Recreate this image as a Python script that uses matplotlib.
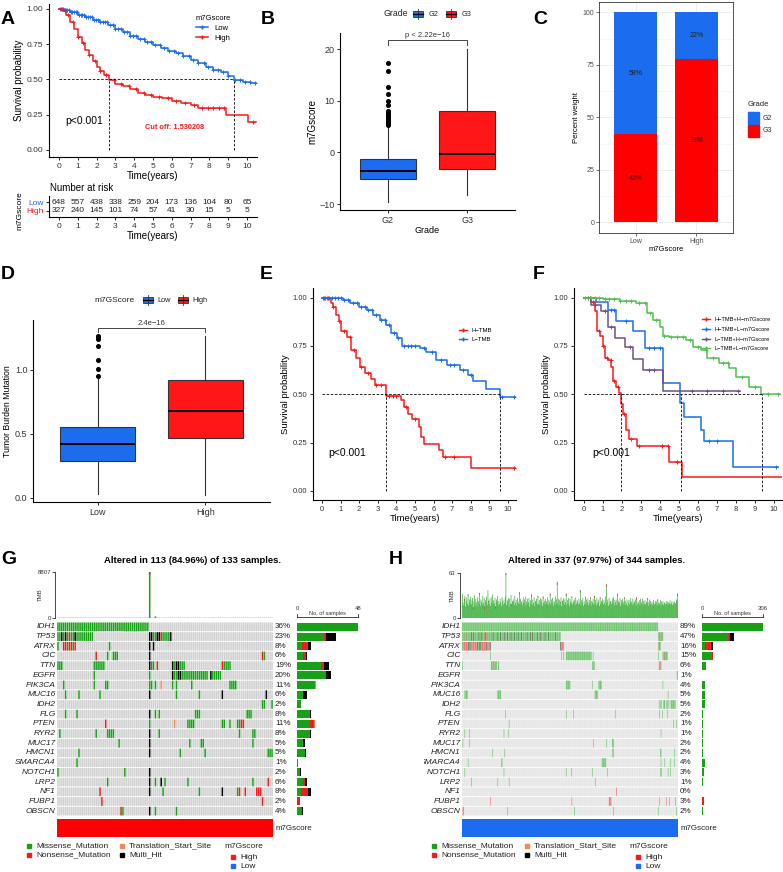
import numpy as np
import matplotlib
matplotlib.use("Agg")
import matplotlib.pyplot as plt
from matplotlib.patches import Rectangle
from matplotlib.lines import Line2D

plt.rcParams['font.family'] = ['Liberation Sans', 'DejaVu Sans']

W, H = 783, 872
BLUE = '#1c6cf0'
RED = '#ff1616'
KM_GREEN = '#52bf52'
PURPLE = '#6c4f8c'
MIS = '#17a117'
NON = '#f21c1c'
TSS = '#f7865f'
MULTI = '#000000'

# ---------------- panel A: KM by m7Gscore ----------------
a_low_t = [0, 0.3, 0.6, 1.0, 1.4, 1.8, 2.2, 2.6, 3.0, 3.4, 3.8, 4.2, 4.6, 5.0, 5.4, 5.8,
           6.2, 6.6, 7.0, 7.4, 7.8, 8.2, 8.6, 9.0, 9.3, 9.8, 10.2, 10.5]
a_low_s = [1.0, 0.99, 0.975, 0.955, 0.94, 0.925, 0.905, 0.885, 0.86, 0.835, 0.81, 0.79, 0.765,
           0.745, 0.725, 0.705, 0.685, 0.665, 0.64, 0.615, 0.59, 0.57, 0.555, 0.525, 0.495,
           0.485, 0.476, 0.476]
a_high_t = [0, 0.2, 0.4, 0.6, 0.8, 1.0, 1.2, 1.4, 1.6, 1.8, 2.0, 2.2, 2.4, 2.65, 3.0, 3.4,
            3.8, 4.2, 4.6, 5.0, 5.5, 6.0, 6.5, 7.0, 7.4, 8.9, 10.05, 10.5]
a_high_s = [1.0, 0.985, 0.955, 0.91, 0.86, 0.8, 0.76, 0.71, 0.67, 0.63, 0.59, 0.56, 0.53,
            0.495, 0.47, 0.455, 0.43, 0.405, 0.39, 0.375, 0.365, 0.345, 0.33, 0.32, 0.30,
            0.245, 0.198, 0.198]
a_low_cens = [0.08, 0.15, 0.22, 0.3, 0.37, 0.45, 0.55, 0.62, 0.7, 0.8, 0.88, 0.97, 1.05, 1.15,
              1.25, 1.33, 1.42, 1.55, 1.63, 1.75, 1.85, 1.95, 2.08, 2.2, 2.32, 2.45, 2.58, 2.7,
              2.85, 3.0, 3.12, 3.3, 3.45, 3.62, 3.8, 3.95, 4.1, 4.3, 4.5, 4.7, 4.9, 5.1, 5.35,
              5.6, 5.85, 6.1, 6.35, 6.6, 6.9, 7.15, 7.4, 7.7, 7.95, 8.2, 8.45, 8.7, 9.0, 9.35,
              9.6, 9.9, 10.15, 10.4]
a_high_cens = [0.1, 0.3, 0.5, 0.75, 1.0, 1.3, 1.6, 1.9, 2.2, 2.5, 2.9, 3.3, 3.7, 4.1, 4.5,
               4.9, 5.3, 5.8, 6.2, 6.7, 7.2, 7.6, 7.9, 8.2, 8.5, 8.8, 10.3]
a_medians = [2.65, 9.3]
risk_times = [0, 1, 2, 3, 4, 5, 6, 7, 8, 9, 10]
risk_low = [648, 557, 438, 338, 259, 204, 173, 136, 104, 80, 65]
risk_high = [327, 240, 145, 101, 74, 57, 41, 30, 15, 5, 5]

# ---------------- panel B: m7Gscore by grade ----------------
b_groups = ['G2', 'G3']
b_stats = [
    dict(med=-3.6, q1=-5.2, q3=-1.2, whislo=-9.6, whishi=4.9,
         fliers=[5.3, 5.6, 5.9, 6.3, 6.6, 7.0, 7.3, 7.7, 8.0, 9.1, 10.0, 11.2, 12.6, 15.7, 17.2]),
    dict(med=-0.25, q1=-3.2, q3=7.95, whislo=-8.2, whishi=20.0, fliers=[]),
]

# ---------------- panel C: grade composition ----------------
c_groups = ['Low', 'High']
c_g3 = [42, 78]
c_g2 = [58, 22]

# ---------------- panel D: TMB by m7Gscore ----------------
d_groups = ['Low', 'High']
d_stats = [
    dict(med=0.42, q1=0.287, q3=0.551, whislo=0.025, whishi=0.94,
         fliers=[0.95, 1.005, 1.078, 1.183, 1.24, 1.256, 1.266]),
    dict(med=0.681, q1=0.47, q3=0.922, whislo=0.02, whishi=1.266, fliers=[]),
]

# ---------------- panel E: KM by TMB ----------------
e_high_t = [0, 0.5, 0.6, 0.77, 0.9, 1.04, 1.34, 1.58, 1.85, 2.02, 2.3, 2.65, 2.83, 3.43, 4.27,
            4.4, 4.62, 4.86, 5.2, 5.3, 5.5, 6.29, 6.5, 8.0, 10.4]
e_high_s = [1.0, 0.97, 0.95, 0.91, 0.88, 0.83, 0.795, 0.73, 0.69, 0.64, 0.61, 0.58, 0.55,
            0.493, 0.47, 0.436, 0.40, 0.37, 0.33, 0.28, 0.243, 0.21, 0.178, 0.117, 0.117]
e_low_t = [0, 1.13, 1.5, 2.0, 2.4, 2.75, 3.1, 3.46, 3.73, 4.03, 4.32, 5.25, 5.6, 6.15, 6.7,
           7.4, 7.85, 8.12, 8.83, 9.55, 10.4]
e_low_s = [1.0, 0.99, 0.97, 0.953, 0.936, 0.91, 0.884, 0.858, 0.815, 0.79, 0.75, 0.738, 0.72,
           0.68, 0.65, 0.626, 0.6, 0.569, 0.526, 0.488, 0.488]
e_high_cens = [0.1, 0.3, 0.6, 0.9, 1.2, 1.5, 1.7, 2.1, 2.5, 2.9, 3.2, 3.6, 3.8, 4.0, 4.5, 5.0,
               6.6, 7.1, 10.3]
e_low_cens = [0.05, 0.15, 0.25, 0.4, 0.55, 0.7, 0.85, 1.0, 1.2, 1.4, 1.65, 1.9, 2.1, 2.3, 2.5,
              2.7, 2.9, 3.2, 3.4, 3.6, 3.85, 4.1, 4.4, 4.6, 4.8, 5.0, 5.5, 5.9, 6.4, 6.9, 7.1,
              7.6, 8.0, 9.7, 10.3]
e_medians = [3.43, 9.55]

# ---------------- panel F: KM by TMB + m7Gscore ----------------
f_labels = ['H−TMB+H−m7Gscore', 'H−TMB+L−m7Gscore', 'L−TMB+H−m7Gscore', 'L−TMB+L−m7Gscore']
f_hh_t = [0, 0.4, 0.58, 0.7, 0.84, 0.98, 1.1, 1.27, 1.45, 1.54, 1.71, 1.85, 1.97, 2.06, 2.2,
          2.37, 2.8, 4.5, 5.15, 10.4]
f_hh_s = [1.0, 0.98, 0.93, 0.83, 0.80, 0.75, 0.69, 0.68, 0.64, 0.57, 0.54, 0.505, 0.45, 0.40,
          0.315, 0.27, 0.23, 0.148, 0.074, 0.074]
f_hl_t = [0, 0.66, 1.27, 1.71, 2.58, 3.2, 4.15, 5.03, 5.29, 6.16, 6.34, 7.82, 10.2]
f_hl_s = [1.0, 0.976, 0.936, 0.88, 0.83, 0.74, 0.557, 0.453, 0.385, 0.315, 0.258, 0.126, 0.126]
f_lh_t = [0, 0.4, 0.92, 1.27, 1.62, 2.15, 2.58, 3.1, 4.15, 8.2]
f_lh_s = [1.0, 0.96, 0.93, 0.85, 0.79, 0.745, 0.685, 0.625, 0.517, 0.517]
f_ll_t = [0, 1.0, 1.9, 2.75, 3.3, 3.63, 3.98, 4.15, 4.5, 5.37, 5.72, 6.16, 6.5, 7.1, 7.64,
          8.0, 8.7, 9.3, 10.3]
f_ll_s = [1.0, 0.995, 0.985, 0.97, 0.92, 0.885, 0.85, 0.80, 0.795, 0.78, 0.745, 0.73, 0.686,
          0.66, 0.634, 0.59, 0.537, 0.50, 0.50]
f_hh_cens = [0.2, 0.5, 0.8, 1.0, 1.2, 1.4, 1.6, 1.8, 2.1, 2.5, 2.9, 4.1, 4.4, 4.9]
f_hl_cens = [0.3, 1.4, 1.6, 2.2, 3.4, 3.7, 4.0, 6.6, 7.0, 10.1]
f_lh_cens = [0.6, 1.1, 1.4, 2.4, 3.4, 3.7, 5.7, 6.5, 7.3, 8.1]
f_ll_cens = [0.05, 0.2, 0.4, 0.6, 0.8, 1.1, 1.3, 1.6, 1.9, 2.2, 2.5, 2.9, 3.2, 3.5, 3.8, 4.2,
             4.6, 4.9, 5.2, 5.6, 6.0, 6.4, 6.8, 7.3, 7.6, 8.3, 9.0, 9.7, 10.2]
f_medians = [1.95, 5.1, 9.35]

# ---------------- panels G / H: oncoplots ----------------
genes = ['IDH1', 'TP53', 'ATRX', 'CIC', 'TTN', 'EGFR', 'PIK3CA', 'MUC16', 'IDH2', 'FLG',
         'PTEN', 'RYR2', 'MUC17', 'HMCN1', 'SMARCA4', 'NOTCH1', 'LRP2', 'NF1', 'FUBP1', 'OBSCN']
pct_g = ['36%', '23%', '8%', '6%', '19%', '20%', '11%', '6%', '2%', '8%', '11%', '8%', '5%',
         '5%', '1%', '2%', '6%', '8%', '2%', '4%']
pct_h = ['89%', '47%', '16%', '15%', '6%', '1%', '4%', '5%', '5%', '2%', '1%', '1%', '2%',
         '2%', '4%', '3%', '1%', '0%', '3%', '2%']
n_g = 113
n_h = 337
# runs per gene: "start-endCODE" (M missense, N nonsense, T translation start, H multi hit)
mut_g = [
    "0-47M",
    "0-1M 2H 3M 4H 5M 6N 7-8M 9H 10-18M 48-49H 50-51M 52-53H 54N 55-58M 59H",
    "0M 3-4N 5M 6-7N 8M 9N 27M 48H 50H",
    "20N 26M 29-31M 48H 107N 108M",
    "0-2M 19-24M 48H 49-50M 52N 60H 61M 62-63H 64-66M 86N 87-90M",
    "19M 48M 60H 61-62M 63-64H 65-78M 80H 81-85M",
    "3M 19M 25-26M 48-49M 51M 54T 60M 62M 70M 90-93M",
    "4M 11M 22M 48H 62M 74M 86H 109H",
    "107-108M 112M",
    "4M 10M 48H 51M 53M 72-74M 99-101M",
    "25N 48M 61T 68-71M 86-87M 90M 94-95M 96-97N",
    "1M 20M 26-29M 48H 53M 95M 102-103M",
    "32M 48H 69M 75-76M 102M",
    "11M 48H 64M 77M 110-112M",
    "10M",
    "0M 35M 48H",
    "26M 48H 51M 54H 56M 68M 102M 110N",
    "22N 48H 55M 74M 86H 94M 95N 98N 104-106N",
    "23N 107N",
    "33N 34M 48H 51M 62M",
]
mut_h = [
    "0-305M",
    "0-153M 306-313M 5-6N 35N 37N 39N 42N 308N 310N 14H 18H 26H 30H 36H 48H 55H 60H 66H 70H "
    "76H 81H 87H 92H 101H 106H 110H 117H 122H 129H 135H 145H",
    "0-44M 153-158M 306-309M 3-8N 14-22N 31-36N 40-42N 155-158N 307-308N 10H 12H 24H 27H "
    "29H 38H 44H 153H",
    "44M 155M 162-201M 204M 306M 313-320M 158N 316-317N",
    "0M 45-54M 56-57M 203-206M 307-310M 51N 309N",
    "335-336M",
    "162-168M 203M 213-217M 313M",
    "4-8M 55-60M 207-211M 321M",
    "307M 309M 311M 314-316M 319-321M 324M 326-331M 333M",
    "67M 162M 173M 239M 308M 312M 320M",
    "73M 330M 334M",
    "4M 11M 65M 72M 310M",
    "1M 11M 205M 225M 234-236M",
    "47M 66M 234M 236N 309M 310M 331M",
    "9M 61-62M 218-224M 310M 316M 325M 331M",
    "4M 65M 162M 170M 203M 226M 309M 311M 321M 325M",
    "14M 55M 73M 208M",
    "241N",
    "44N 171N 229-232N 318N 323N 333N 308M",
    "1-2N 71M 175M 236M 306M 334M",
]
tmb_g = [42, 55, 38, 61, 47, 33, 50, 44, 58, 36, 49, 41, 63, 35, 52, 46, 39, 57, 43, 48,
         37, 54, 45, 60, 40, 51, 34, 47, 56, 42, 38, 53, 45, 49, 36, 58, 41, 47, 52, 39,
         44, 57, 35, 50, 43, 48, 40, 55, 8807, 46, 38, 310, 42, 61, 37, 49, 44, 53, 40, 47,
         52, 38, 45, 59, 41, 36, 50, 44, 57, 39, 48, 43, 62, 35, 51, 46, 40, 54, 37, 49,
         45, 58, 42, 36, 53, 47, 40, 56, 44, 38, 51, 43, 60, 37, 48, 45, 52, 39, 46, 55,
         41, 36, 50, 47, 43, 58, 39, 45, 52, 40, 48, 44, 37]
tmb_g_red = [(48, 520)]
tmb_h = [34, 22, 18, 27, 31, 16, 24, 29, 20, 33, 17, 26, 21, 30, 19, 25, 28, 15, 23, 32,
         18, 27, 22, 16, 29, 24, 20, 35, 17, 26, 23, 19, 31, 21, 28, 16, 25, 22, 30, 18,
         39, 24, 20, 27, 17, 29, 22, 33, 19, 25, 21, 28, 16, 26, 23, 31, 18, 24, 20, 27,
         22, 17, 29, 24, 19, 26, 21, 30, 63, 18, 25, 23, 28, 16, 27, 20, 32, 19, 24, 22,
         26, 18, 31, 21, 25, 17, 28, 23, 20, 36, 19, 27, 22, 24, 18, 29, 21, 26, 17, 30,
         23, 19, 27, 22, 28, 16, 25, 20, 33, 18, 26, 21, 29, 17, 24, 22, 27, 19, 31, 20,
         25, 18, 28, 22, 26, 17, 30, 21, 24, 19, 27, 23, 20, 29, 18, 25, 22, 34, 19, 26,
         21, 28, 17, 24, 22, 30, 19, 26, 50, 20, 27, 18, 25, 23, 29, 17, 24, 21, 28, 19,
         26, 22, 34, 18, 25, 20, 28, 17, 27, 23, 21, 30, 19, 24, 22, 26, 18, 29, 20, 25,
         23, 19, 27, 21, 39, 18, 25, 22, 28, 17, 24, 20, 30, 19, 26, 22, 27, 18, 25, 21,
         29, 17, 24, 22, 27, 19, 31, 20, 25, 18, 28, 21, 23, 26, 17, 29, 20, 24, 22, 27,
         19, 25, 21, 30, 18, 47, 22, 26, 17, 28, 20, 24, 23, 19, 27, 21, 29, 18, 25, 22,
         26, 18, 34, 20, 24, 22, 28, 17, 25, 21, 27, 19, 23, 29, 18, 24, 20, 26, 17, 22,
         25, 19, 28, 21, 23, 18, 27, 20, 24, 22, 26, 17, 29, 19, 23, 21, 25, 18, 27, 20,
         22, 27, 18, 24, 20, 25, 19, 23, 21, 28, 17, 22, 26, 19, 24, 20, 23, 18, 25, 21,
         19, 24, 20, 23, 18, 26, 21, 22, 19, 25, 17, 23, 20, 24, 18, 22, 21, 19, 24, 20,
         23, 18, 22, 20, 25, 19, 21, 24, 18, 22, 20, 23, 19, 21, 26, 24, 34]
tmb_h_red = [(3, 3), (9, 2), (17, 3), (27, 2), (35, 4), (41, 2), (52, 3), (68, 3), (77, 2),
             (89, 3), (96, 2), (108, 3), (118, 2), (126, 3), (137, 3), (148, 4), (156, 2),
             (162, 3), (171, 2), (184, 3), (200, 2), (206, 3), (215, 2), (225, 4), (242, 3),
             (253, 2), (272, 3), (289, 2), (305, 3), (323, 2), (336, 3)]

CODE = {'M': 1, 'N': 2, 'T': 3, 'H': 4}

fig = plt.figure(figsize=(W / 100, H / 100), dpi=100)


def px_axes(l, t, r, b, **kw):
    return fig.add_axes([l / W, 1 - b / H, (r - l) / W, (b - t) / H], **kw)


def gg(ax, fs=6):
    ax.spines['top'].set_visible(False)
    ax.spines['right'].set_visible(False)
    ax.spines['left'].set_linewidth(0.8)
    ax.spines['bottom'].set_linewidth(0.8)
    ax.tick_params(labelsize=fs, length=2.5, width=0.6, pad=1.5, labelcolor='#333333')


def step_at(t, s, x):
    idx = np.searchsorted(t, x, side='right') - 1
    return np.asarray(s)[idx]


def km(ax, t, s, color, cens):
    ax.step(t, s, where='post', color=color, lw=1.1)
    ax.plot(cens, step_at(t, s, cens), ls='none', marker='+', color=color, ms=3.5, mew=0.7)


def medians(ax, meds):
    ax.plot([0, max(meds)], [0.5, 0.5], ls=(0, (3, 2)), color='black', lw=0.6)
    for m in meds:
        ax.plot([m, m], [0, 0.5], ls=(0, (3, 2)), color='black', lw=0.6)


def km_axes(ax, xlim, fs_tick=6, fs_lab=7):
    gg(ax, fs_tick)
    ax.set_xlim(*xlim)
    ax.set_xticks(range(11))
    ax.set_yticks([0, 0.25, 0.5, 0.75, 1.0])
    ax.set_yticklabels(['0.00', '0.25', '0.50', '0.75', '1.00'])
    ax.set_xlabel('Time(years)', fontsize=fs_lab, labelpad=1)
    ax.set_ylabel('Survival probability', fontsize=fs_lab, labelpad=2)


# ---------- A ----------
ax = px_axes(49, 4, 257, 157)
km(ax, a_low_t, a_low_s, BLUE, a_low_cens)
km(ax, a_high_t, a_high_s, RED, a_high_cens)
medians(ax, a_medians)
km_axes(ax, (-0.53, 10.53), 6, 7)
ax.set_ylim(-0.05, 1.035)
ax.text(0.32, 0.205, 'p<0.001', fontsize=7.5, va='center')
ax.text(4.57, 0.156, 'Cut off: 1.530208', fontsize=5.3, color=RED, fontweight='bold',
        va='center')
hand = [Line2D([], [], color=BLUE, marker='+', lw=1.1, ms=3.5),
        Line2D([], [], color=RED, marker='+', lw=1.1, ms=3.5)]
leg = ax.legend(hand, ['Low', 'High'], title='m7Gscore', loc='upper left',
                bbox_to_anchor=(0.68, 0.96), frameon=False, fontsize=5.5, title_fontsize=5.5,
                handlelength=1.6, labelspacing=0.3, borderpad=0.2)
leg._legend_box.align = 'left'

rt = px_axes(49, 196, 257, 217)
gg(rt, 6)
rt.set_xlim(-0.53, 10.53)
rt.set_ylim(0, 1)
rt.set_xticks(risk_times)
rt.set_yticks([0.286, 0.714])
rt.set_yticklabels(['High', 'Low'])
for lab, c in zip(rt.get_yticklabels(), [RED, BLUE]):
    lab.set_color(c)
for i, tt in enumerate(risk_times):
    rt.text(tt, 0.714, str(risk_low[i]), ha='center', va='center', fontsize=6, color='#222222')
    rt.text(tt, 0.286, str(risk_high[i]), ha='center', va='center', fontsize=6, color='#222222')
rt.set_xlabel('Time(years)', fontsize=7, labelpad=1)

# ---------- B ----------
bx = px_axes(340, 33, 515, 210)
gg(bx, 6.5)
res = bx.bxp(b_stats, positions=[1, 2], widths=0.7, patch_artist=True, showcaps=False,
             boxprops=dict(edgecolor='#333333', lw=0.8),
             medianprops=dict(color='black', lw=1.4),
             whiskerprops=dict(color='#333333', lw=0.8),
             flierprops=dict(marker='o', markerfacecolor='black', markeredgecolor='black',
                             markersize=2.6))
for p, c in zip(res['boxes'], [BLUE, RED]):
    p.set_facecolor(c)
bx.set_xlim(0.4, 2.6)
bx.set_ylim(-11.16, 23.1)
bx.set_xticks([1, 2])
bx.set_xticklabels(b_groups)
bx.set_yticks([-10, 0, 10, 20])
bx.set_xlabel('Grade', fontsize=6.5, labelpad=1)
bx.set_ylabel('m7Gscore', fontsize=7, labelpad=1)
bx.plot([1, 1, 2, 2], [20.8, 21.7, 21.7, 20.8], color='#444444', lw=0.7)
bx.text(1.5, 21.9, 'p < 2.22e−16', ha='center', va='bottom', fontsize=5.5, color='#333333')

# ---------- C ----------
cx = px_axes(599, 2, 733, 233)
cx.set_axisbelow(True)
cx.bar([1, 2], c_g3, width=0.7, color='#ff0000')
cx.bar([1, 2], c_g2, bottom=c_g3, width=0.7, color=BLUE)
for i in range(2):
    cx.text(i + 1, c_g3[i] / 2, f'{c_g3[i]}%', ha='center', va='center', fontsize=5, color='#222222')
    cx.text(i + 1, c_g3[i] + c_g2[i] / 2, f'{c_g2[i]}%', ha='center', va='center', fontsize=5,
            color='#222222')
cx.set_xlim(0.4, 2.6)
cx.set_ylim(-5, 105)
cx.set_yticks([0, 25, 50, 75, 100])
cx.set_yticks([12.5, 37.5, 62.5, 87.5], minor=True)
cx.set_xticks([1, 2])
cx.set_xticklabels(c_groups)
cx.grid(True, which='major', color='#ebebeb', lw=0.6)
cx.grid(True, which='minor', axis='y', color='#f2f2f2', lw=0.4)
cx.tick_params(which='minor', length=0)
cx.tick_params(which='major', labelsize=5, length=2, width=0.5, pad=1.5, labelcolor='#4d4d4d',
               color='#333333')
for s in cx.spines.values():
    s.set_color('#333333')
    s.set_linewidth(0.6)
cx.set_ylabel('Percent weight', fontsize=5.5, labelpad=2)
cx.set_xlabel('m7Gscore', fontsize=5.5, labelpad=1)

# ---------- D ----------
dx = px_axes(33, 320, 270, 502)
gg(dx, 6.5)
res = dx.bxp(d_stats, positions=[1, 2], widths=0.7, patch_artist=True, showcaps=False,
             boxprops=dict(edgecolor='#333333', lw=0.8),
             medianprops=dict(color='black', lw=1.4),
             whiskerprops=dict(color='#333333', lw=0.8),
             flierprops=dict(marker='o', markerfacecolor='black', markeredgecolor='black',
                             markersize=2.6))
for p, c in zip(res['boxes'], [BLUE, RED]):
    p.set_facecolor(c)
dx.set_xlim(0.4, 2.6)
dx.set_ylim(-0.034, 1.39)
dx.set_yticks([0, 0.5, 1.0])
dx.set_yticklabels(['0.0', '0.5', '1.0'])
dx.set_xticks([1, 2])
dx.set_xticklabels(d_groups)
dx.set_ylabel('Tumor Burden Mutation', fontsize=6.3, labelpad=2)
dx.plot([1, 1, 2, 2], [1.30, 1.326, 1.326, 1.30], color='#444444', lw=0.7)
dx.text(1.5, 1.333, '2.4e−16', ha='center', va='bottom', fontsize=5.5, color='#333333')

# ---------- E ----------
ex = px_axes(313, 288, 516, 500)
km(ex, e_high_t, e_high_s, RED, e_high_cens)
km(ex, e_low_t, e_low_s, BLUE, e_low_cens)
medians(ex, e_medians)
km_axes(ex, (-0.48, 10.43), 5.5, 6.8)
ex.set_ylim(-0.047, 1.05)
ex.text(0.32, 0.197, 'p<0.001', fontsize=7.5, va='center')
hand = [Line2D([], [], color=RED, marker='+', lw=1.0, ms=3),
        Line2D([], [], color=BLUE, marker='+', lw=1.0, ms=3)]
ex.legend(hand, ['H−TMB', 'L−TMB'], loc='upper left', bbox_to_anchor=(0.7, 0.83),
          frameon=False, fontsize=4.3, handlelength=1.4, labelspacing=0.7, borderpad=0.1)

# ---------- F ----------
fx = px_axes(574, 288, 782, 500)
km(fx, f_hh_t, f_hh_s, RED, f_hh_cens)
km(fx, f_hl_t, f_hl_s, BLUE, f_hl_cens)
km(fx, f_lh_t, f_lh_s, PURPLE, f_lh_cens)
km(fx, f_ll_t, f_ll_s, KM_GREEN, f_ll_cens)
medians(fx, f_medians)
km_axes(fx, (-0.52, 10.42), 5.5, 6.8)
fx.set_ylim(-0.047, 1.05)
fx.text(0.42, 0.197, 'p<0.001', fontsize=7.5, va='center')
hand = [Line2D([], [], color=c, marker='+', lw=1.0, ms=3)
        for c in [RED, BLUE, PURPLE, KM_GREEN]]
fx.legend(hand, f_labels, loc='upper left', bbox_to_anchor=(0.6, 0.88), frameon=False,
          fontsize=4.1, handlelength=1.4, labelspacing=0.85, borderpad=0.1)

# ---------- overlay for free text ----------
ov = fig.add_axes([0, 0, 1, 1], zorder=10)
ov.set_xlim(0, W)
ov.set_ylim(H, 0)
ov.axis('off')

for lab, x, y in [('A', 1, 19), ('B', 261, 19), ('C', 533, 19), ('D', 1, 274),
                  ('E', 260, 274), ('F', 533, 274), ('G', 1, 559), ('H', 389, 559)]:
    ov.text(x, y, lab, fontsize=14, fontweight='bold', va='center', ha='left')

ov.text(50, 188, 'Number at risk', fontsize=7, va='center')
ov.text(20, 211, 'm7Gscore', fontsize=6, rotation=90, ha='center', va='center')


def box_key(x, y, color):
    ov.plot([x, x], [y - 5, y + 5], color='#333333', lw=0.6)
    ov.add_patch(Rectangle((x - 5, y - 3), 10, 6, facecolor=color, edgecolor='#333333', lw=0.6))
    ov.plot([x - 5, x + 5], [y, y], color='black', lw=0.9)


ov.text(383, 14, 'Grade', fontsize=6.3, va='center', color='#222222')
box_key(418, 14, BLUE)
ov.text(429, 14, 'G2', fontsize=5.3, va='center', color='#222222')
box_key(451, 14, RED)
ov.text(462, 14, 'G3', fontsize=5.3, va='center', color='#222222')

ov.text(94, 300, 'm7GScore', fontsize=6, va='center', color='#222222')
box_key(148, 300, BLUE)
ov.text(157, 300, 'Low', fontsize=5.3, va='center', color='#222222')
box_key(183, 300, RED)
ov.text(192, 300, 'High', fontsize=5.3, va='center', color='#222222')

ov.text(748, 104, 'Grade', fontsize=5.5, va='center', color='#222222')
ov.add_patch(Rectangle((748, 112), 11, 12, color=BLUE))
ov.add_patch(Rectangle((748, 125), 11, 12, color='#ff0000'))
ov.text(763, 118, 'G2', fontsize=5, va='center', color='#333333')
ov.text(763, 131, 'G3', fontsize=5, va='center', color='#333333')


def parse_runs(specs, n):
    codes = np.zeros((len(specs), n), dtype=int)
    for gi, spec in enumerate(specs):
        for tok in spec.split():
            rng, c = tok[:-1], tok[-1]
            if '-' in rng:
                a, b = map(int, rng.split('-'))
            else:
                a = b = int(rng)
            codes[gi, a:b + 1] = CODE[c]
    return codes


def oncoplot(specs, n, tmb, tmb_red, tmax, pct, ml, mr, lab_l, bar_l, bar_r, title, title_x,
             ann_color, leg_x, cw, bg, tmb_top, tw):
    codes = parse_runs(specs, n)
    ng = len(specs)
    top, bot = 622, 816
    row = (bot - top) / ng
    cell_cols = [bg, MIS, NON, TSS, MULTI]

    mx = px_axes(ml, top, mr, bot)
    for gi in range(ng):
        for code, col in enumerate(cell_cols):
            js = np.nonzero(codes[gi] == code)[0]
            if len(js):
                mx.broken_barh([(j + (1 - cw) / 2, cw) for j in js], (gi + 0.05, 0.9),
                               facecolors=col, lw=0, snap=False)
    mx.set_xlim(0, n)
    mx.set_ylim(ng, 0)
    mx.axis('off')

    # gene names
    gx = px_axes(lab_l, top, ml - 1.5, bot)
    gx.set_xlim(0, 1)
    gx.set_ylim(ng, 0)
    gx.axis('off')
    for gi, g in enumerate(genes):
        gx.text(1, gi + 0.5, g, ha='right', va='center', fontsize=6, fontstyle='italic',
                clip_on=True, color='#222222')
        ov.text(mr + 2, top + (gi + 0.5) * row, pct[gi], fontsize=5.8, va='center',
                color='#222222')

    # TMB bars
    tx = px_axes(ml, tmb_top, mr, 618)
    xs = np.arange(n) + 0.5
    tx.bar(xs, tmb, width=tw, color=MIS, lw=0, snap=False)
    for i, v in tmb_red:
        tx.bar(xs[i], v, bottom=tmb[i] - v, width=tw, color=NON, lw=0, snap=False)
    tx.set_xlim(0, n)
    tx.set_ylim(0, tmax)
    for s in ['top', 'right', 'bottom']:
        tx.spines[s].set_visible(False)
    tx.spines['left'].set_position(('outward', 1.5))
    tx.spines['left'].set_linewidth(0.5)
    tx.set_xticks([])
    tx.set_yticks([0, tmax])
    tx.tick_params(labelsize=4.3, length=2, width=0.5, pad=1, labelcolor='#333333')
    tx.set_ylabel('TMB', fontsize=4.3, labelpad=-4, color='#333333')

    # side bar of counts
    bxx = px_axes(bar_l, top, bar_r, bot)
    left = np.zeros(ng)
    for code, col in [(1, MIS), (2, NON), (3, TSS), (4, MULTI)]:
        cnt = (codes == code).sum(axis=1)
        bxx.barh(np.arange(ng) + 0.5, cnt, left=left, height=0.82, color=col, lw=0)
        left += cnt
    bmax = int(left.max())
    bxx.set_xlim(0, bmax)
    bxx.set_ylim(ng, 0)
    bxx.axis('off')
    ov.plot([bar_l, bar_r], [617, 617], color='black', lw=0.5)
    ov.plot([bar_l, bar_l], [613.5, 617], color='black', lw=0.5)
    ov.plot([bar_r, bar_r], [613.5, 617], color='black', lw=0.5)
    ov.text(bar_l, 608, '0', fontsize=4.3, ha='center', va='center', color='#333333')
    ov.text(bar_r, 608, str(bmax), fontsize=4.3, ha='center', va='center', color='#333333')
    ov.text((bar_l + bar_r) / 2, 613.5, 'No. of samples', fontsize=4, ha='center',
            va='center', color='#333333')

    # annotation bar
    ax_ann = px_axes(ml, 819, mr, 837)
    ax_ann.add_patch(Rectangle((0, 0), 1, 1, color=ann_color))
    ax_ann.axis('off')
    ov.text(mr + 3, 828, 'm7Gscore', fontsize=5.8, va='center', color='#222222')

    ov.text(title_x, 560, title, fontsize=6.8, fontweight='bold', ha='center', va='center')

    # legend
    for dxl, r, col, lab in [(0, 0, MIS, 'Missense_Mutation'), (0, 1, NON, 'Nonsense_Mutation'),
                             (93, 0, TSS, 'Translation_Start_Site'), (93, 1, MULTI, 'Multi_Hit')]:
        y = 846 + r * 9
        ov.add_patch(Rectangle((leg_x + dxl - 2, y - 2), 4, 4, color=col))
        ov.text(leg_x + dxl + 7, y, lab, fontsize=6, va='center', color='#222222')
    ov.text(leg_x + 195, 846, 'm7Gscore', fontsize=6, va='center', color='#222222')
    for r, col, lab in [(0, RED, 'High'), (1, BLUE, 'Low')]:
        y = 857 + r * 9
        ov.add_patch(Rectangle((leg_x + 202, y - 2), 4, 4, color=col))
        ov.text(leg_x + 211, y, lab, fontsize=6, va='center', color='#222222')


oncoplot(mut_g, n_g, tmb_g, tmb_g_red, 8807, pct_g, 57, 273, 0, 297, 358,
         'Altered in 113 (84.96%) of 133 samples.', 193, '#ff0000', 29, 0.8, '#d0d0d0', 572, 0.8)
oncoplot(mut_h, n_h, tmb_h, tmb_h_red, 63, pct_h, 462, 678, 424, 702, 763,
         'Altered in 337 (97.97%) of 344 samples.', 597, BLUE, 434, 0.62, '#d6d6d6', 573, 0.9)

fig.savefig('out.png', dpi=100)
